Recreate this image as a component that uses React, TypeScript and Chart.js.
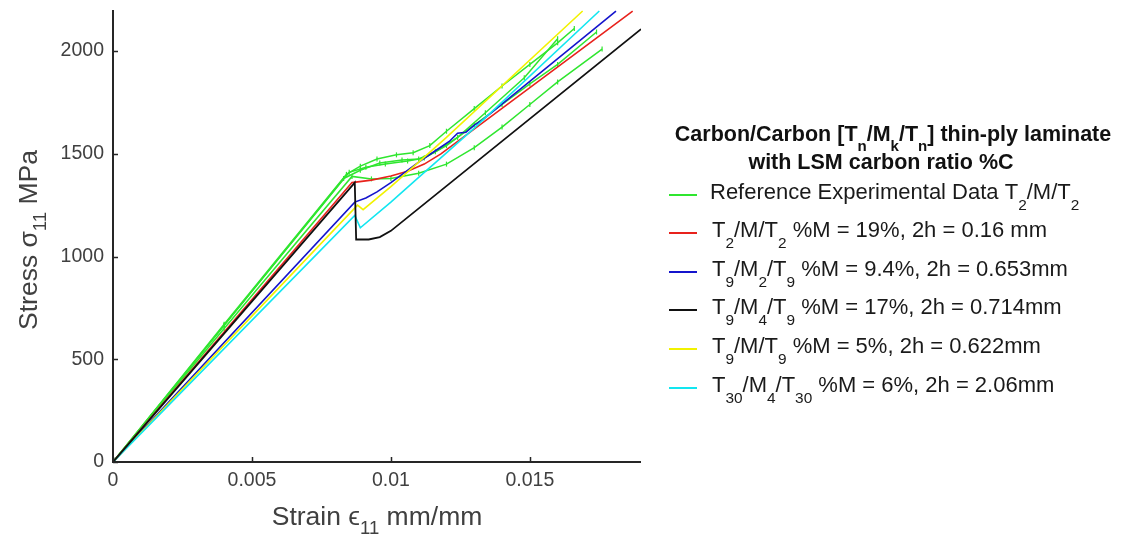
import { useEffect, useRef } from "react";
import { Chart, registerables } from "chart.js";
Chart.register(...registerables);

const FONT = '"Liberation Sans", Arial, Helvetica, sans-serif';

// Axis ticks
const xTicks = [0, 0.005, 0.01, 0.015];
const xTickLabels = ["0", "0.005", "0.01", "0.015"];
const yTicks = [0, 500, 1000, 1500, 2000];
const yTickLabels = ["0", "500", "1000", "1500", "2000"];
const xMax = 0.019;
const yMax = 2200;

// Axis titles (tex-like: _{..} = subscript)
const xTitle = "Strain \u03f5_{11} mm/mm";
const yTitle = "Stress \u03c3_{11} MPa";

// Legend text
const legendTitle1 = "Carbon/Carbon [T_{n}/M_{k}/T_{n}] thin-ply laminate";
const legendTitle2 = "with LSM carbon ratio %C";
const seriesLabels = [
  "Reference Experimental Data T_{2}/M/T_{2}",
  "T_{2}/M/T_{2} %M = 19%, 2h = 0.16 mm",
  "T_{9}/M_{2}/T_{9} %M = 9.4%, 2h = 0.653mm",
  "T_{9}/M_{4}/T_{9} %M = 17%, 2h = 0.714mm",
  "T_{9}/M/T_{9} %M = 5%, 2h = 0.622mm",
  "T_{30}/M_{4}/T_{30} %M = 6%, 2h = 2.06mm",
];
const seriesColors = ["#2fe62f", "#e8221c", "#1414cc", "#111111", "#f2f200", "#12e6f0"];

// Experimental data (green, several specimens)
const exp1Strain = [0, 0.004, 0.0084, 0.0089, 0.0095, 0.0102, 0.0108, 0.0114, 0.012, 0.013, 0.014, 0.015, 0.016, 0.0166];
const exp1Stress = [0, 670, 1400, 1440, 1475, 1495, 1505, 1540, 1610, 1720, 1830, 1935, 2040, 2110];
const exp2Strain = [0, 0.004, 0.0085, 0.0091, 0.0098, 0.0106, 0.0112, 0.012, 0.013, 0.014, 0.015, 0.016, 0.0174];
const exp2Stress = [0, 665, 1410, 1435, 1450, 1465, 1480, 1540, 1640, 1740, 1840, 1935, 2093];
const exp3Strain = [0, 0.004, 0.0086, 0.0093, 0.01, 0.011, 0.012, 0.013, 0.014, 0.015, 0.016, 0.0176];
const exp3Stress = [0, 650, 1390, 1378, 1380, 1405, 1450, 1530, 1630, 1740, 1850, 2010];
const exp4Strain = [0, 0.004, 0.0083, 0.0089, 0.0096, 0.0104, 0.011, 0.0116, 0.0124, 0.0134, 0.0148, 0.016];
const exp4Stress = [0, 665, 1380, 1420, 1455, 1470, 1475, 1510, 1580, 1700, 1870, 2060];

// Model curves
const redStrain = [0, 0.0086, 0.0093, 0.01, 0.0106, 0.0112, 0.0118, 0.0187];
const redStress = [0, 1360, 1372, 1392, 1415, 1450, 1500, 2195];
const blueStrain = [0, 0.0087, 0.0091, 0.0095, 0.01, 0.0105, 0.011, 0.0116, 0.0121, 0.0124, 0.0127, 0.013, 0.0133, 0.0181];
const blueStress = [0, 1265, 1285, 1315, 1360, 1410, 1460, 1515, 1560, 1600, 1605, 1640, 1665, 2195];
const blackStrain = [0, 0.0087, 0.00875, 0.0092, 0.0096, 0.01, 0.019];
const blackStress = [0, 1360, 1083, 1083, 1095, 1125, 2107];
const yellowStrain = [0, 0.0088, 0.009, 0.01, 0.011, 0.012, 0.0169];
const yellowStress = [0, 1250, 1228, 1340, 1460, 1580, 2195];
const cyanStrain = [0, 0.0087, 0.0089, 0.01, 0.011, 0.012, 0.013, 0.0175];
const cyanStress = [0, 1200, 1140, 1265, 1385, 1505, 1625, 2195];

type Seg = { t: string; sub: boolean };
function parseRich(s: string): Seg[] {
  const out: Seg[] = [];
  const re = /_\{([^}]*)\}/g;
  let last = 0;
  let m: RegExpExecArray | null;
  while ((m = re.exec(s))) {
    if (m.index > last) out.push({ t: s.slice(last, m.index), sub: false });
    out.push({ t: m[1], sub: true });
    last = re.lastIndex;
  }
  if (last < s.length) out.push({ t: s.slice(last), sub: false });
  return out;
}

function drawRich(
  ctx: CanvasRenderingContext2D,
  s: string,
  x: number,
  y: number,
  size: number,
  weight: string,
  align: "left" | "center",
  color: string,
  subDrop = 0.5
) {
  const segs = parseRich(s);
  const subSize = size * 0.7;
  const fontFor = (sub: boolean) => `${weight} ${sub ? subSize : size}px ${FONT}`;
  let total = 0;
  for (const seg of segs) {
    ctx.font = fontFor(seg.sub);
    total += ctx.measureText(seg.t).width;
  }
  let cx = align === "center" ? x - total / 2 : x;
  ctx.textAlign = "left";
  ctx.textBaseline = "alphabetic";
  ctx.fillStyle = color;
  for (const seg of segs) {
    ctx.font = fontFor(seg.sub);
    ctx.fillText(seg.t, cx, seg.sub ? y + size * subDrop : y);
    cx += ctx.measureText(seg.t).width;
  }
}

const overlay = {
  id: "overlay",
  afterDraw(chart: any) {
    const ctx: CanvasRenderingContext2D = chart.ctx;
    const { left, right, top, bottom } = chart.chartArea;
    const xs = chart.scales.x;
    const ys = chart.scales.y;
    ctx.save();
    // axes
    ctx.strokeStyle = "#262626";
    ctx.lineWidth = 2;
    ctx.beginPath();
    ctx.moveTo(left, top);
    ctx.lineTo(left, bottom);
    ctx.lineTo(right, bottom);
    ctx.stroke();
    // inward tick marks
    ctx.lineWidth = 1.5;
    ctx.beginPath();
    for (const v of xTicks) {
      const px = Math.round(xs.getPixelForValue(v)) + 0.5;
      ctx.moveTo(px, bottom);
      ctx.lineTo(px, bottom - 5);
    }
    for (const v of yTicks) {
      const py = Math.round(ys.getPixelForValue(v)) + 0.5;
      ctx.moveTo(left, py);
      ctx.lineTo(left + 5, py);
    }
    ctx.stroke();
    // axis titles
    drawRich(ctx, xTitle, (left + right) / 2, 525, 26.5, "normal", "center", "#404040", 0.35);
    ctx.save();
    ctx.translate(37, (top + bottom) / 2 + 4);
    ctx.rotate(-Math.PI / 2);
    drawRich(ctx, yTitle, 0, 0, 26.5, "normal", "center", "#404040", 0.35);
    ctx.restore();
    // legend
    drawRich(ctx, legendTitle1, 893, 141, 21.5, "bold", "center", "#111", 0.45);
    drawRich(ctx, legendTitle2, 881, 169, 21.5, "bold", "center", "#111", 0.45);
    const rowY = [195, 233, 272, 310, 349, 388];
    seriesLabels.forEach((lab, i) => {
      ctx.strokeStyle = seriesColors[i];
      ctx.lineWidth = 2;
      ctx.beginPath();
      ctx.moveTo(669, rowY[i]);
      ctx.lineTo(697, rowY[i]);
      ctx.stroke();
      drawRich(ctx, lab, i === 0 ? 710 : 712, rowY[i] + 4, 22, "normal", "left", "#1a1a1a", 0.5);
    });
    ctx.restore();
  },
};

function pts(xs: number[], ys: number[]) {
  return xs.map((x, i) => ({ x, y: ys[i] }));
}

export default function App() {
  const ref = useRef<HTMLCanvasElement>(null);
  useEffect(() => {
    document.body.style.margin = "0";
    const canvas = ref.current!;
    const green = seriesColors[0];
    const expSet = (xs: number[], ys: number[]) => ({
      data: pts(xs, ys),
      borderColor: green,
      backgroundColor: green,
      borderWidth: 1.5,
      pointStyle: "line",
      pointRotation: 90,
      pointRadius: (c: any) => (c.dataIndex === 0 ? 0 : 2.5),
      pointBorderColor: green,
      pointBorderWidth: 1.2,
      order: 10,
    });
    const model = (xs: number[], ys: number[], color: string, order: number, w = 1.6) => ({
      data: pts(xs, ys),
      borderColor: color,
      backgroundColor: color,
      borderWidth: w,
      pointRadius: 0,
      order,
    });
    const chart = new Chart(canvas, {
      type: "line",
      data: {
        datasets: [
          expSet(exp1Strain, exp1Stress),
          expSet(exp2Strain, exp2Stress),
          expSet(exp3Strain, exp3Stress),
          expSet(exp4Strain, exp4Stress),
          model(redStrain, redStress, seriesColors[1], 5),
          model(blueStrain, blueStress, seriesColors[2], 4),
          model(yellowStrain, yellowStress, seriesColors[4], 3),
          model(cyanStrain, cyanStress, seriesColors[5], 2),
          model(blackStrain, blackStress, seriesColors[3], 1, 1.8),
        ] as any,
      },
      options: {
        animation: false,
        responsive: false,
        maintainAspectRatio: false,
        layout: { padding: { left: 0, right: 485, top: 10, bottom: 0 } },
        plugins: { legend: { display: false }, tooltip: { enabled: false } },
        elements: { line: { tension: 0 } },
        scales: {
          x: {
            type: "linear",
            min: 0,
            max: xMax,
            grid: { display: false, drawTicks: false },
            border: { display: false },
            afterBuildTicks: (s: any) => {
              s.ticks = xTicks.map((v) => ({ value: v }));
            },
            afterFit: (s: any) => {
              s.height = 76;
              s.paddingLeft = 0;
              s.paddingRight = 0;
            },
            ticks: {
              autoSkip: false,
              maxRotation: 0,
              padding: 7,
              color: "#404040",
              font: { size: 19.5, family: FONT },
              callback: (_v: any, i: number) => xTickLabels[i],
            },
          },
          y: {
            type: "linear",
            min: 0,
            max: yMax,
            grid: { display: false, drawTicks: false },
            border: { display: false },
            afterBuildTicks: (s: any) => {
              s.ticks = yTicks.map((v) => ({ value: v }));
            },
            afterFit: (s: any) => {
              s.width = 113;
              s.paddingTop = 0;
              s.paddingBottom = 0;
            },
            ticks: {
              autoSkip: false,
              padding: 9,
              color: "#404040",
              font: { size: 19.5, family: FONT },
              callback: (_v: any, i: number) => yTickLabels[i],
            },
          },
        },
      } as any,
      plugins: [overlay],
    });
    return () => chart.destroy();
  }, []);
  return (
    <div style={{ width: 1126, height: 538 }}>
      <canvas ref={ref} width={1126} height={538} style={{ display: "block" }} />
    </div>
  );
}
